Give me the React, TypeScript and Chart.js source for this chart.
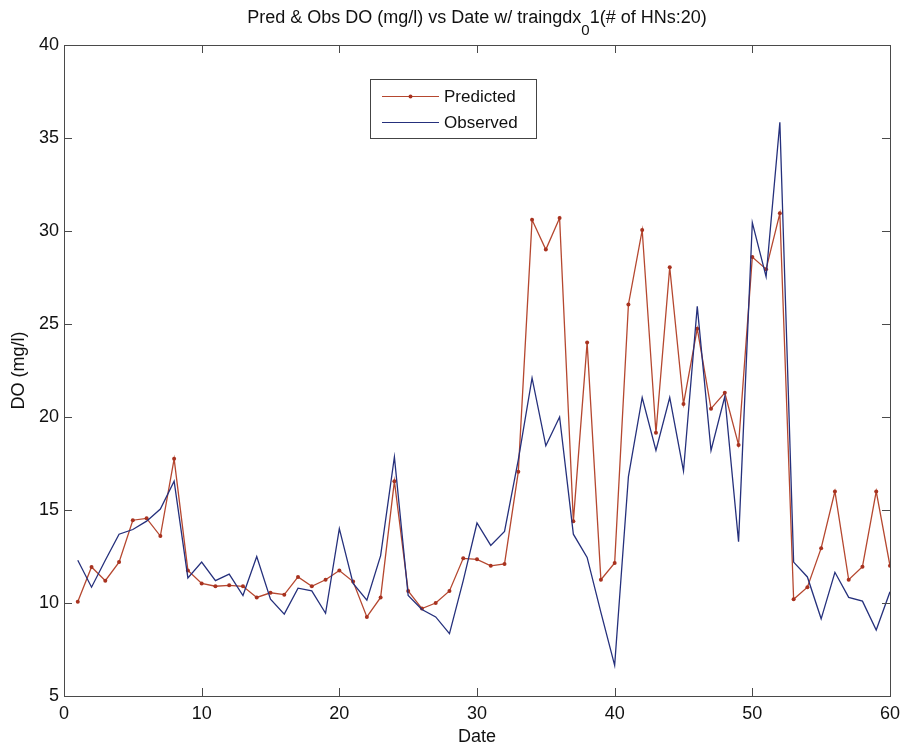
import React, { useEffect, useRef } from "react";
import { Chart, registerables } from "chart.js";

Chart.register(...registerables);

const dates = [
  1, 2, 3, 4, 5, 6, 7, 8, 9, 10, 11, 12, 13, 14, 15, 16, 17, 18, 19, 20,
  21, 22, 23, 24, 25, 26, 27, 28, 29, 30, 31, 32, 33, 34, 35, 36, 37, 38, 39, 40,
  41, 42, 43, 44, 45, 46, 47, 48, 49, 50, 51, 52, 53, 54, 55, 56, 57, 58, 59, 60,
];

const predicted = [
  10.07, 11.94, 11.2, 12.2, 14.45, 14.55, 13.6, 17.75, 11.75, 11.05,
  10.9, 10.95, 10.9, 10.3, 10.55, 10.45, 11.4, 10.9, 11.25, 11.75,
  11.15, 9.25, 10.3, 16.55, 10.65, 9.7, 10.0, 10.65, 12.4, 12.35,
  12.0, 12.1, 17.05, 30.6, 29.0, 30.7, 14.4, 24.0, 11.25, 12.15,
  26.05, 30.05, 19.15, 28.05, 20.7, 24.75, 20.45, 21.3, 18.5, 28.6,
  27.95, 30.95, 10.2, 10.85, 12.95, 16.0, 11.25, 11.95, 16.0, 12.0,
];

const observed = [
  12.3, 10.85, 12.3, 13.7, 13.95, 14.4, 15.05, 16.55, 11.35, 12.2,
  11.2, 11.55, 10.4, 12.5, 10.2, 9.4, 10.8, 10.65, 9.45, 14.0,
  11.05, 10.15, 12.55, 17.85, 10.4, 9.65, 9.25, 8.35, 11.2, 14.3,
  13.1, 13.85, 17.7, 22.1, 18.45, 20.0, 13.7, 12.45, 9.5, 6.65,
  16.8, 21.05, 18.2, 21.05, 17.1, 25.95, 18.2, 21.1, 13.3, 30.45,
  27.55, 35.85, 12.2, 11.4, 9.15, 11.65, 10.3, 10.1, 8.55, 10.6,
];

const xTickValues = [0, 10, 20, 30, 40, 50, 60];
const yTickValues = [5, 10, 15, 20, 25, 30, 35, 40];

const seriesLabels = ["Predicted", "Observed"];
const titleMain = "Pred & Obs DO (mg/l) vs Date w/ traingdx";
const titleSub = "0";
const titleTail = "1(# of HNs:20)";
const xTitle = "Date";
const yTitle = "DO (mg/l)";

const FONT = "'Liberation Sans', Arial, Helvetica, sans-serif";
const RED = "#b5472f";
const RED_PT = "#a8321f";
const BLUE = "#25307c";
const AXIS = "#4a4a4a";

const boxTicksPlugin = {
  id: "boxTicks",
  afterDraw(chart: any) {
    const { ctx, chartArea } = chart;
    const { left, right, top, bottom } = chartArea;
    const xs = chart.scales.x;
    const ys = chart.scales.y;
    const len = 8;
    ctx.save();
    ctx.strokeStyle = AXIS;
    ctx.lineWidth = 1;
    ctx.beginPath();
    xs.ticks.forEach((t: any) => {
      const px = Math.round(xs.getPixelForValue(t.value)) + 0.5;
      ctx.moveTo(px, bottom);
      ctx.lineTo(px, bottom - len);
      ctx.moveTo(px, top);
      ctx.lineTo(px, top + len);
    });
    ys.ticks.forEach((t: any) => {
      const py = Math.round(ys.getPixelForValue(t.value)) + 0.5;
      ctx.moveTo(left, py);
      ctx.lineTo(left + len, py);
      ctx.moveTo(right, py);
      ctx.lineTo(right - len, py);
    });
    ctx.stroke();
    ctx.strokeRect(Math.round(left) + 0.5, Math.round(top) + 0.5, Math.round(right - left), Math.round(bottom - top));
    ctx.restore();
  },
};

const titlePlugin = {
  id: "matlabTitle",
  afterDraw(chart: any) {
    const { ctx, chartArea } = chart;
    const cx = (chartArea.left + chartArea.right) / 2;
    const base = 23;
    ctx.save();
    ctx.fillStyle = "#111";
    ctx.textBaseline = "alphabetic";
    ctx.textAlign = "left";
    const mainFont = `18px ${FONT}`;
    const subFont = `15px ${FONT}`;
    ctx.font = mainFont;
    const w1 = ctx.measureText(titleMain).width;
    const w3 = ctx.measureText(titleTail).width;
    ctx.font = subFont;
    const w2 = ctx.measureText(titleSub).width;
    const total = w1 + w2 + w3;
    let x = cx - total / 2;
    ctx.font = mainFont;
    ctx.fillText(titleMain, x, base);
    x += w1;
    ctx.font = subFont;
    ctx.fillText(titleSub, x, base + 12);
    x += w2;
    ctx.font = mainFont;
    ctx.fillText(titleTail, x, base);
    ctx.restore();
  },
};

const legendPlugin = {
  id: "matlabLegend",
  afterDraw(chart: any) {
    const { ctx } = chart;
    const bx = 370, by = 79, bw = 166, bh = 59;
    ctx.save();
    ctx.fillStyle = "#fff";
    ctx.fillRect(bx, by, bw, bh);
    ctx.strokeStyle = "#444";
    ctx.lineWidth = 1;
    ctx.strokeRect(bx + 0.5, by + 0.5, bw, bh);
    const rows = [
      { y: 96.5, color: RED, marker: true, label: chart.data.datasets[1].label },
      { y: 122.5, color: BLUE, marker: false, label: chart.data.datasets[0].label },
    ];
    rows.forEach((r) => {
      ctx.strokeStyle = r.color;
      ctx.lineWidth = 1.2;
      ctx.beginPath();
      ctx.moveTo(382, r.y);
      ctx.lineTo(439, r.y);
      ctx.stroke();
      if (r.marker) {
        ctx.fillStyle = RED_PT;
        ctx.beginPath();
        ctx.arc(410.5, r.y, 2, 0, Math.PI * 2);
        ctx.fill();
      }
      ctx.fillStyle = "#111";
      ctx.font = `17px ${FONT}`;
      ctx.textBaseline = "middle";
      ctx.textAlign = "left";
      ctx.fillText(r.label, 444, r.y + 1);
    });
    ctx.restore();
  },
};

export default function App() {
  const ref = useRef<HTMLCanvasElement | null>(null);

  useEffect(() => {
    if (!ref.current) return;
    const chart = new Chart(ref.current, {
      type: "line",
      data: {
        datasets: [
          {
            label: seriesLabels[1],
            data: dates.map((d, i) => ({ x: d, y: observed[i] })),
            borderColor: BLUE,
            borderWidth: 1.3,
            pointRadius: 0,
            tension: 0,
            order: 0,
          },
          {
            label: seriesLabels[0],
            data: dates.map((d, i) => ({ x: d, y: predicted[i] })),
            borderColor: RED,
            borderWidth: 1.3,
            pointRadius: 2,
            pointBorderWidth: 0,
            pointBackgroundColor: RED_PT,
            pointBorderColor: RED_PT,
            tension: 0,
            order: 1,
          },
        ],
      },
      options: {
        animation: false,
        responsive: false,
        maintainAspectRatio: false,
        layout: { padding: { top: 45, right: 16, left: 0, bottom: 0 } },
        plugins: {
          legend: { display: false },
          title: { display: false },
          tooltip: { enabled: false },
        },
        scales: {
          x: {
            type: "linear",
            min: 0,
            max: 60,
            afterBuildTicks: (s: any) => {
              s.ticks = xTickValues.map((v) => ({ value: v }));
            },
            afterFit: (s: any) => {
              s.height = 52;
            },
            grid: { display: false, drawTicks: false },
            border: { display: false },
            ticks: {
              color: "#111",
              padding: 7,
              maxRotation: 0,
              font: { family: FONT, size: 18 },
            },
            title: {
              display: true,
              text: xTitle,
              color: "#111",
              font: { family: FONT, size: 18 },
              padding: { top: 0, bottom: 0 },
            },
          },
          y: {
            type: "linear",
            min: 5,
            max: 40,
            afterBuildTicks: (s: any) => {
              s.ticks = yTickValues.map((v) => ({ value: v }));
            },
            afterFit: (s: any) => {
              s.width = 64;
            },
            grid: { display: false, drawTicks: false },
            border: { display: false },
            ticks: {
              color: "#111",
              padding: 5,
              font: { family: FONT, size: 18 },
            },
            title: {
              display: true,
              text: yTitle,
              color: "#111",
              font: { family: FONT, size: 18 },
              padding: { top: 8, bottom: 0 },
            },
          },
        },
      },
      plugins: [boxTicksPlugin, titlePlugin, legendPlugin],
    });
    return () => chart.destroy();
  }, []);

  return (
    <div style={{ position: "fixed", left: 0, top: 0, width: 907, height: 748, background: "#fff" }}>
      <canvas ref={ref} width={907} height={748} style={{ display: "block", width: 907, height: 748 }} />
    </div>
  );
}
